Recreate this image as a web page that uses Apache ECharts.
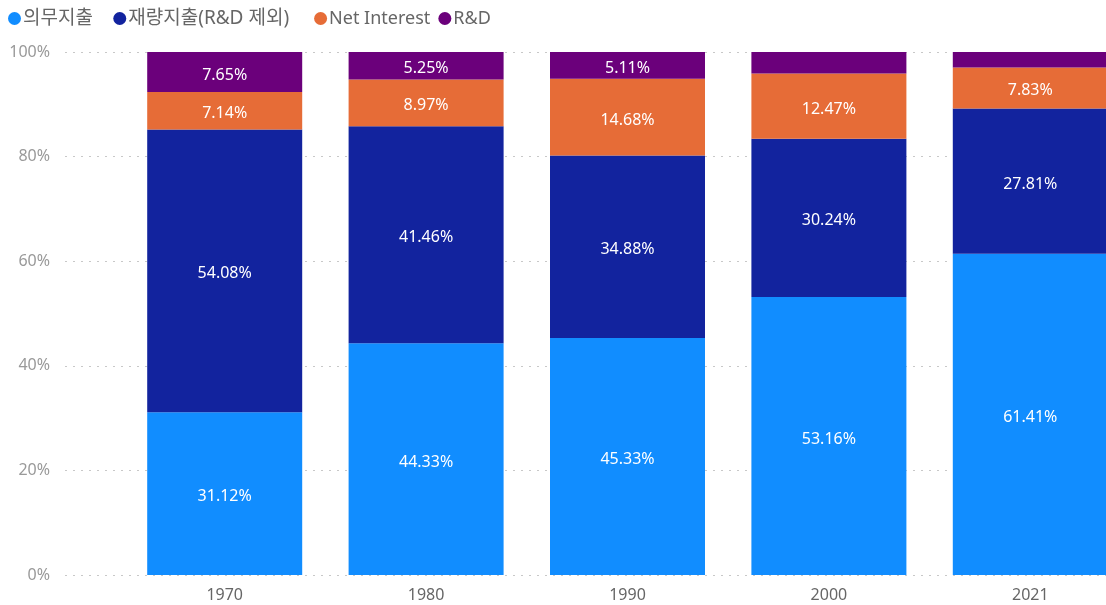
<!DOCTYPE html>
<html>
<head>
<meta charset="utf-8">
<script src="https://cdn.jsdelivr.net/npm/echarts@6/dist/echarts.min.js"></script>
<style>
html,body{margin:0;padding:0;background:#fff;overflow:hidden;}
#chart{width:1131px;height:605px;}
</style>
</head>
<body>
<div id="chart"></div>
<script>
const categories = ['1970', '1980', '1990', '2000', '2021'];
const seriesNames = ['의무지출', '재량지출(R&D 제외)', 'Net Interest', 'R&D'];
const mandatory = [31.12, 44.33, 45.33, 53.16, 61.41];
const discretionary = [54.08, 41.46, 34.88, 30.24, 27.81];
const netInterest = [7.14, 8.97, 14.68, 12.47, 7.83];
const rnd = [7.65, 5.25, 5.11, 4.13, 2.95];
const yTicks = [0, 20, 40, 60, 80, 100];

const colors = ['#118DFF', '#12239E', '#E66C37', '#6B007B'];
const FONT = "'Segoe UI', 'Noto Sans', 'Noto Sans CJK KR', sans-serif";

function mk(vals) {
  return vals.map(v => ({
    value: v,
    label: { show: v >= 5 }
  }));
}

const valuesList = [mandatory, discretionary, netInterest, rnd];

const chart = echarts.init(document.getElementById('chart'));
chart.setOption({
  animation: false,
  color: colors,
  textStyle: { fontFamily: FONT },
  legend: {
    left: 3,
    top: 4,
    icon: 'circle',
    itemWidth: 13,
    itemHeight: 13,
    itemGap: 8,
    formatter: function (name) {
      if (name === seriesNames[0]) return '{k|' + name + '}{s|  \u2009}';
      if (name === seriesNames[1]) return '{k|' + name + '}{s|   \u2009}';
      return '{n|' + name + '}';
    },
    textStyle: {
      fontSize: 18, color: '#666', fontFamily: FONT, padding: [0, 0, 0, -3],
      rich: {
        k: { fontSize: 19, color: '#666', fontFamily: FONT },
        n: { fontSize: 18, color: '#666', fontFamily: FONT },
        s: { fontSize: 18, fontFamily: FONT }
      }
    },
    data: seriesNames
  },
  grid: [
    { left: 65, right: 25, top: 52, bottom: 30, containLabel: false },
    { left: 124, right: 0, top: 52, bottom: 30, containLabel: false }
  ],
  xAxis: [
    { type: 'category', gridIndex: 0, data: categories, show: false },
    {
      type: 'category', gridIndex: 1, data: categories,
      axisLine: { show: false }, axisTick: { show: false },
      axisLabel: { color: '#666', fontSize: 16, margin: 12, fontFamily: FONT }
    }
  ],
  yAxis: [
    {
      type: 'value', gridIndex: 0, min: 0, max: 100, interval: 20,
      axisLine: { show: false }, axisTick: { show: false },
      axisLabel: { color: '#999', fontSize: 16, margin: 15, fontFamily: FONT, formatter: v => v + '%' },
      splitLine: { show: true, lineStyle: { color: '#c8c8c8', type: [2, 6], width: 1 } }
    },
    { type: 'value', gridIndex: 1, min: 0, max: 100, show: false }
  ],
  series: seriesNames.map((name, i) => ({
    name: name,
    type: 'bar',
    stack: 'total',
    xAxisIndex: 1,
    yAxisIndex: 1,
    barWidth: 155,
    data: mk(valuesList[i]),
    itemStyle: { color: colors[i] },
    label: {
      show: true,
      position: 'inside',
      offset: [0, 3],
      color: '#fff',
      fontSize: 16,
      fontFamily: FONT,
      formatter: p => p.value.toFixed(2) + '%'
    }
  }))
});
</script>
</body>
</html>
